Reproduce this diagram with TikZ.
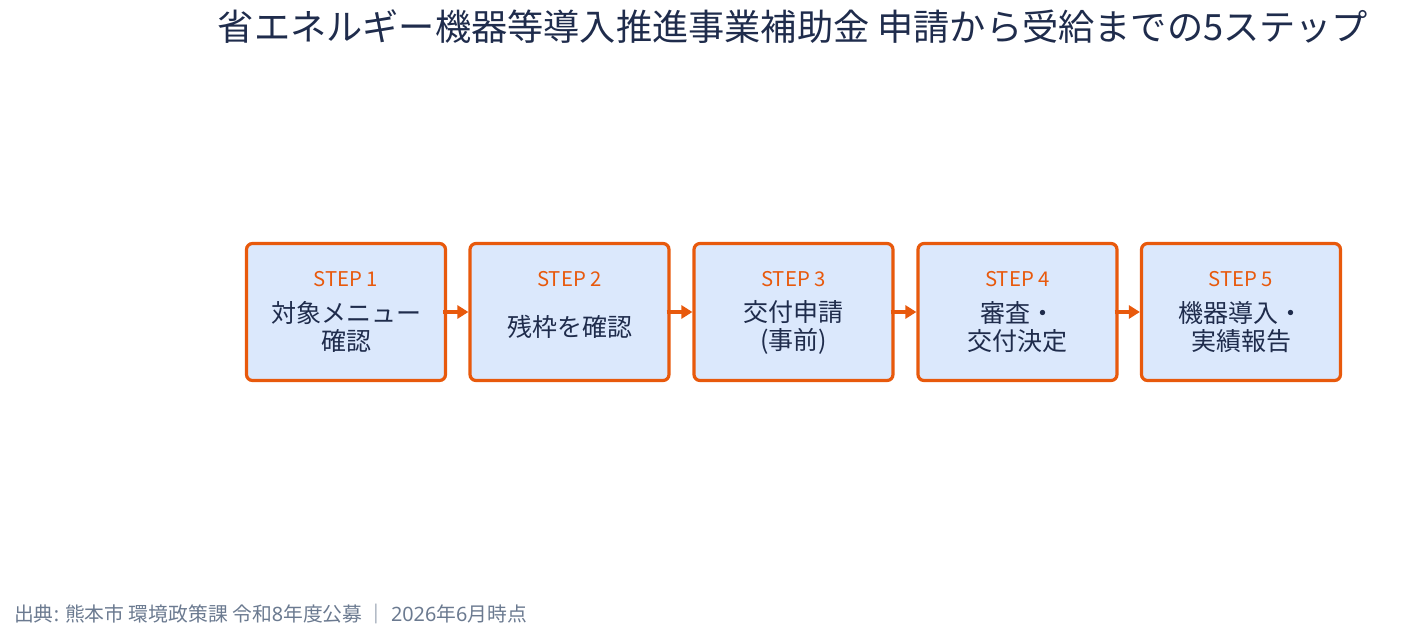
\documentclass[tikz,border=0pt]{standalone}
\usepackage{fontspec}
\setmainfont{Noto Sans CJK JP}
\newfontfamily\latfont{Noto Sans}
\usetikzlibrary{arrows.meta}
\definecolor{orng}{HTML}{E8590C}
\definecolor{boxfill}{HTML}{DBE8FC}
\definecolor{navy}{HTML}{1F2C4C}
\definecolor{foot}{HTML}{6B7A90}
\tikzset{
  stepbox/.style={draw=orng, fill=boxfill, line width=3.2pt, rounded corners=6pt, minimum width=199pt, minimum height=137pt, inner sep=0pt},
  steplabel/.style={text=orng, font=\fontsize{20.3}{24}\selectfont, inner sep=0pt},
  steptext/.style={text=navy, font=\fontsize{25}{28}\selectfont, align=center, inner sep=0pt},
  conn/.style={draw=orng, line width=3.2pt, -{Triangle[length=11pt,width=13pt]}, shorten <=-4pt}
}
\begin{document}
\begin{tikzpicture}[x=1pt,y=-1pt]
\useasboundingbox (0,0) rectangle (1411,638);
\node[text=navy, font=\fontsize{36.2}{42}\selectfont, inner sep=0pt] (title) at (793,27) {省エネルギー機器等導入推進事業補助金 申請から受給までの5ステップ};
\foreach \i/\x/\t in {1/346/{対象メニュー\\確認}, 2/569.5/{残枠を確認}, 3/793.5/{交付申請\\(事前)}, 4/1017.5/{審査・\\交付決定}, 5/1241/{機器導入・\\実績報告}} {
  \node[stepbox] (b\i) at (\x,312) {};
  \node[steplabel] (l\i) at (\x,279) {STEP \i};
  \node[steptext] (t\i) at (\x,327) {\t};
}
\foreach \a/\b in {1/2,2/3,3/4,4/5} {
  \draw[conn] (b\a.east) -- (b\b.west);
}
\node[anchor=west, text=foot, font=\fontsize{19.8}{22}\selectfont, inner sep=0pt] (src) at (14,614) {出典{\latfont :} 熊本市 環境政策課 令和{\latfont 8}年度公募 ｜ {\latfont 2026}年{\latfont 6}月時点};
\end{tikzpicture}
\end{document}
